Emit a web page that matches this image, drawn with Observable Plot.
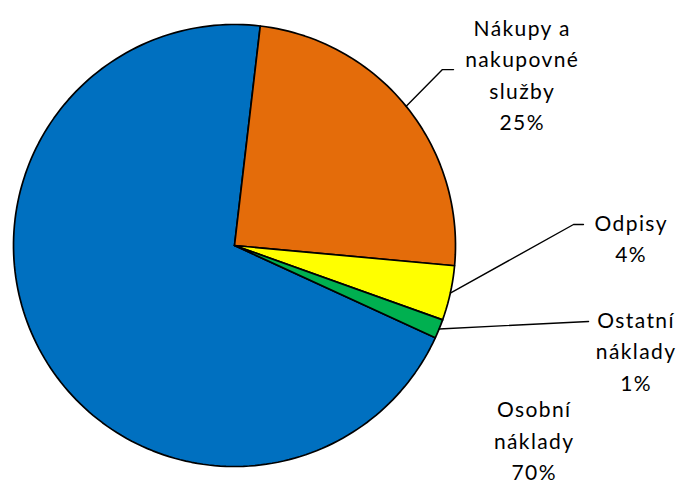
<!DOCTYPE html>
<html><head><meta charset="utf-8">
<script src="https://cdn.jsdelivr.net/npm/d3@7"></script>
<script src="https://cdn.jsdelivr.net/npm/@observablehq/plot@0.6"></script>
<style>
body{margin:0;background:#fff}
#chart svg{font-family:Lato,"Open Sans",sans-serif;}
#chart svg text{letter-spacing:1.4px;}
</style>
</head><body><div id="chart"></div>
<script>
// ---- data ----
const categories = ["Osobní náklady", "Nákupy a nakupovné služby", "Odpisy", "Ostatní náklady"];
const labelLines = ["Osobní\nnáklady", "Nákupy a\nnakupovné\nslužby", "Odpisy", "Ostatní\nnáklady"];
const values = [70.0, 24.6, 4.0, 1.4];
const colors = ["#0070C0", "#E46C0A", "#FFFF00", "#00B050"];

// ---- layout (data units: pie radius = 1, centre at 0,0) ----
const firstSliceEndDeg = 366.7;
const viewDomain = [[-1.0588, -1.0905], [2.0226, 1.1086]];
const labelPos = [[1.356, -0.875], [1.302, 0.78], [1.795, 0.04], [1.817, -0.468]];
const leaderBends = [null, [[0.941, 0.796], [0.991, 0.796]], [[1.534, 0.095], [1.579, 0.095]], [[1.602, -0.344]]];

const total = d3.sum(values);
const deg = Math.PI / 180;
const start = (firstSliceEndDeg - values[0] / total * 360) * deg;
const arcs = d3.pie().sort(null).startAngle(start).endAngle(start + 2 * Math.PI)(values);

const pt = (a, r = 1) => [r * Math.sin(a), r * Math.cos(a)];
const slices = arcs.map((a, i) => {
  const n = Math.max(2, Math.ceil((a.endAngle - a.startAngle) / (2 * Math.PI) * 240));
  const ring = [[0, 0]];
  for (let k = 0; k <= n; k++) ring.push(pt(a.startAngle + (a.endAngle - a.startAngle) * k / n));
  ring.push([0, 0]);
  return {type: "Feature", properties: {name: categories[i], color: colors[i]}, geometry: {type: "Polygon", coordinates: [ring]}};
});

const leaders = arcs.map((a, i) => leaderBends[i] ? {
  type: "Feature", properties: {},
  geometry: {type: "LineString", coordinates: [pt((a.startAngle + a.endAngle) / 2), ...leaderBends[i]]}
} : null).filter(d => d);

const labels = values.map((v, i) => ({
  text: labelLines[i] + "\n" + Math.round(v / total * 100) + "%",
  x: labelPos[i][0], y: labelPos[i][1]
}));

const chart = Plot.plot({
  width: 681, height: 486,
  margin: 0,
  projection: {type: "reflect-y", inset: 0, domain: {type: "MultiPoint", coordinates: viewDomain}},
  marks: [
    Plot.geo(slices, {fill: d => d.properties.color, stroke: "#000", strokeWidth: 1.7}),
    Plot.geo(leaders, {stroke: "#000", strokeWidth: 1.4, fill: "none"}),
    Plot.text(labels, {x: "x", y: "y", text: "text", fontSize: 21, lineHeight: 1.5, fill: "#000", textAnchor: "middle"})
  ]
});
document.getElementById("chart").append(chart);
</script>
</body></html>
